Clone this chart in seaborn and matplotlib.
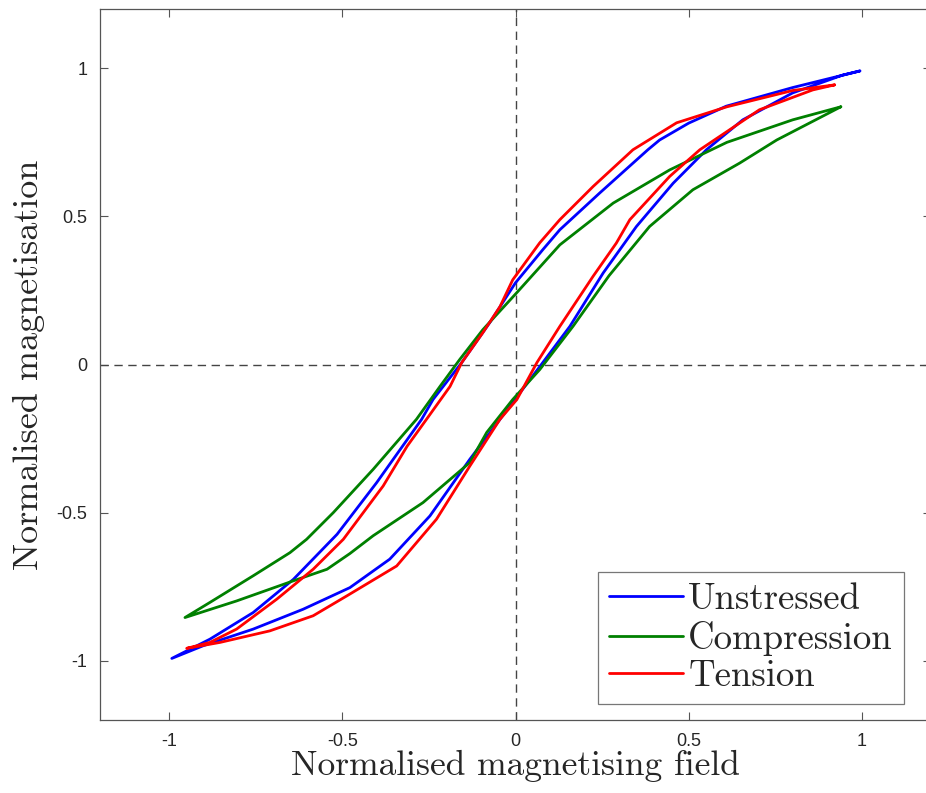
import matplotlib
matplotlib.use("Agg")
import matplotlib.pyplot as plt
from matplotlib.lines import Line2D
import seaborn as sns
import pandas as pd

# ---- data ----
# each loop: upper (descending) branch from +tip to -tip, then lower (ascending) branch back to +tip
unstressed_x = [0.994, 0.80, 0.608, 0.50, 0.416, 0.382, 0.243, 0.128, 0.079, 0.0, -0.074, -0.155, -0.238,
                -0.271, -0.401, -0.515, -0.641, -0.757, -0.882, -0.992,
                -0.901, -0.757, -0.613, -0.478, -0.363, -0.247, -0.132, -0.008, 0.07, 0.157,
                0.253, 0.349, 0.455, 0.551, 0.656, 0.80, 0.944, 0.994]
unstressed_y = [0.991, 0.935, 0.872, 0.815, 0.758, 0.725, 0.579, 0.455, 0.388, 0.276, 0.142, 0.007, -0.118,
                -0.185, -0.399, -0.573, -0.725, -0.837, -0.927, -0.992,
                -0.949, -0.893, -0.826, -0.753, -0.657, -0.511, -0.320, -0.128, -0.007, 0.129,
                0.309, 0.466, 0.612, 0.725, 0.826, 0.917, 0.977, 0.991]

compression_x = [0.939, 0.80, 0.61, 0.445, 0.282, 0.128, 0.004, -0.094, -0.161, -0.218, -0.286,
                 -0.411, -0.526, -0.603, -0.651, -0.757, -0.882, -0.954,
                 -0.805, -0.641, -0.544, -0.478, -0.411, -0.267, -0.132, -0.083, -0.008, 0.07,
                 0.166, 0.27, 0.387, 0.512, 0.647, 0.754, 0.939]
compression_y = [0.870, 0.826, 0.750, 0.657, 0.545, 0.404, 0.243, 0.118, 0.017, -0.074, -0.185,
                 -0.354, -0.500, -0.590, -0.635, -0.713, -0.803, -0.854,
                 -0.798, -0.730, -0.691, -0.638, -0.578, -0.466, -0.331, -0.229, -0.118, -0.017,
                 0.129, 0.300, 0.466, 0.590, 0.680, 0.758, 0.870]

tension_x = [0.921, 0.80, 0.61, 0.465, 0.339, 0.224, 0.128, 0.07, -0.008, -0.045, -0.094,
             -0.155, -0.189, -0.257, -0.313, -0.382, -0.497, -0.584, -0.689, -0.805, -0.882, -0.949,
             -0.853, -0.709, -0.584, -0.487, -0.343, -0.228, -0.132, -0.045, 0.004, 0.062, 0.128,
             0.224, 0.291, 0.330, 0.445, 0.532, 0.704, 0.858, 0.921]
tension_y = [0.944, 0.925, 0.870, 0.816, 0.725, 0.601, 0.489, 0.411, 0.286, 0.195, 0.108,
             0.007, -0.074, -0.185, -0.276, -0.410, -0.590, -0.691, -0.792, -0.893, -0.938, -0.958,
             -0.938, -0.899, -0.848, -0.781, -0.680, -0.522, -0.343, -0.185, -0.118, 0.007, 0.129,
             0.298, 0.410, 0.489, 0.635, 0.725, 0.860, 0.927, 0.944]

series_names = ["Unstressed", "Compression", "Tension"]
series_colors = ["#0000ff", "#008000", "#ff0000"]
tick_values = [-1, -0.5, 0, 0.5, 1]
tick_labels = ["-1", "-0.5", "0", "0.5", "1"]

frames = []
for name, xs, ys in [("Unstressed", unstressed_x, unstressed_y),
                     ("Compression", compression_x, compression_y),
                     ("Tension", tension_x, tension_y)]:
    frames.append(pd.DataFrame({"H": xs, "M": ys, "series": name}))
df = pd.concat(frames, ignore_index=True)

sns.set_style("ticks")
plt.rcParams["axes.unicode_minus"] = False

fig = plt.figure(figsize=(9.26, 7.93), dpi=100)
ax = fig.add_axes([0.1077, 0.092, 0.898, 0.8966])

ax.axhline(0, color="#444444", lw=1.0, ls=(0, (6, 4)), zorder=1)
ax.axvline(0, color="#444444", lw=1.0, ls=(0, (6, 4)), zorder=1)

sns.lineplot(data=df, x="H", y="M", hue="series", hue_order=series_names,
             palette=series_colors, sort=False, estimator=None, units="series",
             lw=2.0, ax=ax, legend=False, zorder=3)

ax.set_xlim(-1.2, 1.2)
ax.set_ylim(-1.2, 1.2)
ax.set_xticks(tick_values)
ax.set_xticklabels(tick_labels, fontsize=13, family="Liberation Sans")
ax.set_yticks(tick_values)
ax.set_yticklabels(tick_labels, fontsize=13, family="Liberation Sans")
ax.tick_params(direction="in", top=True, right=True, length=6, width=0.8,
               color="#555555", pad=9)
for sp in ax.spines.values():
    sp.set_color("#555555")
    sp.set_linewidth(0.9)

ax.set_xlabel("Normalised magnetising field", fontsize=25.5, family="cmr10", labelpad=0)
ax.set_ylabel("Normalised magnetisation", fontsize=26, family="cmr10", labelpad=8)

handles = [Line2D([0], [0], color=c, lw=2.0) for c in series_colors]
leg = ax.legend(handles, series_names, loc="lower right", bbox_to_anchor=(0.967, 0.022),
                prop={"family": "cmr10", "size": 26.5}, frameon=True, fancybox=False,
                edgecolor="#555555", handlelength=2.0, handletextpad=0.15,
                borderpad=0.3, labelspacing=0.12, borderaxespad=0)
leg.get_frame().set_linewidth(0.9)

fig.savefig("out.png", dpi=100)
